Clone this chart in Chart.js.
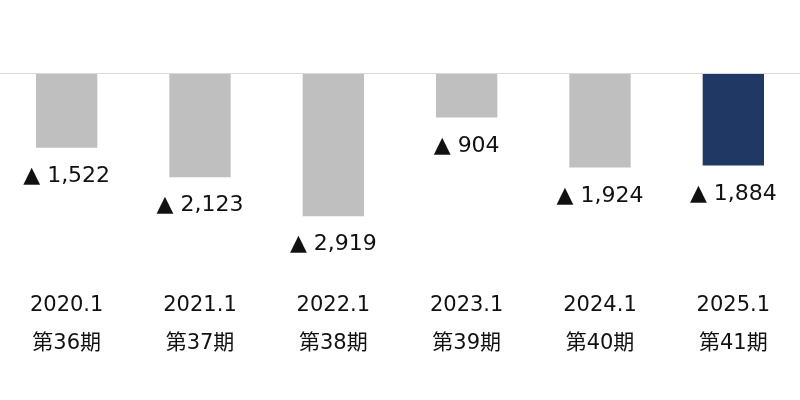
<!DOCTYPE html>
<html lang="ja">
<head>
    <meta charset="UTF-8">
    <title>Losses by period</title>
    <script src="https://cdn.jsdelivr.net/npm/chart.js"></script>
    <style>
        body {
            margin: 0;
            padding: 0;
            background: #ffffff;
        }
        #wrap {
            width: 800px;
            height: 400px;
        }
    </style>
</head>
<body>
    <div id="wrap"><canvas id="lossChart"></canvas></div>
    <script>
        // data
        const years = ['2020.1', '2021.1', '2022.1', '2023.1', '2024.1', '2025.1'];
        const periods = ['第36期', '第37期', '第38期', '第39期', '第40期', '第41期'];
        const values = [-1522, -2123, -2919, -904, -1924, -1884];
        const barColors = ['#bfbfbf', '#bfbfbf', '#bfbfbf', '#bfbfbf', '#bfbfbf', '#1f3864'];

        const fontFamily = "'DejaVu Sans', 'Noto Sans CJK JP', sans-serif";

        // draw "▲ 1,522" under each bar
        const valueLabels = {
            id: 'valueLabels',
            afterDatasetsDraw(chart) {
                const ctx = chart.ctx;
                const meta = chart.getDatasetMeta(0);
                ctx.save();
                ctx.font = '22px ' + fontFamily;
                ctx.fillStyle = '#111111';
                ctx.textAlign = 'center';
                ctx.textBaseline = 'alphabetic';
                meta.data.forEach((bar, i) => {
                    const v = Math.abs(values[i]).toLocaleString('en-US');
                    ctx.fillText('▲ ' + v, bar.x, bar.y + 34);
                });
                ctx.restore();
            }
        };

        new Chart(document.getElementById('lossChart'), {
            type: 'bar',
            data: {
                labels: years.map((y, i) => [y, periods[i]]),
                datasets: [{
                    data: values,
                    backgroundColor: barColors,
                    borderWidth: 0,
                    barPercentage: 0.46,
                    categoryPercentage: 1
                }]
            },
            options: {
                responsive: true,
                maintainAspectRatio: false,
                animation: false,
                layout: { padding: { left: 0, right: 0, top: 0, bottom: 28 } },
                plugins: {
                    legend: { display: false },
                    tooltip: { enabled: false }
                },
                scales: {
                    x: {
                        grid: { display: false, drawTicks: false },
                        border: { display: false },
                        ticks: {
                            padding: 10,
                            color: '#111111',
                            font: { family: fontFamily, size: 21, lineHeight: 1.8 }
                        }
                    },
                    y: {
                        min: -4150,
                        max: 1500,
                        border: { display: false },
                        // only the zero line is wanted
                        afterBuildTicks: axis => { axis.ticks = [{ value: 0 }]; },
                        ticks: { display: false },
                        grid: {
                            drawTicks: false,
                            color: '#d9d9d9',
                            lineWidth: 1
                        }
                    }
                }
            },
            plugins: [valueLabels]
        });
    </script>
</body>
</html>
